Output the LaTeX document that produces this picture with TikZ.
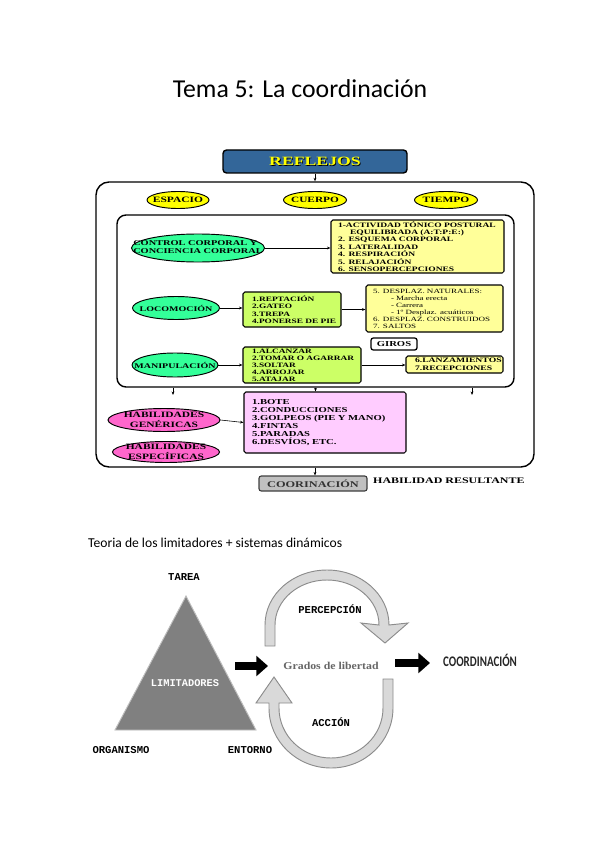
\documentclass[tikz,border=0pt]{standalone}
\usepackage{fontspec}
\setmainfont{Liberation Serif}
\newfontfamily\chartfont[FakeStretch=1.4]{Liberation Serif}
\newfontfamily\gradosfont[FakeStretch=1.12]{Liberation Serif}
\newfontfamily\calfont{Carlito}
\newfontfamily\narrowfont[FakeStretch=0.75]{Carlito}
\newfontfamily\monofont{Liberation Mono}
\usetikzlibrary{shapes.geometric,arrows.meta}
\newlength\px
\setlength\px{0.03cm}
\newcommand\cf[2]{\fontsize{#1}{#2}\chartfont\bfseries}
\definecolor{reflblue}{HTML}{336699}
\definecolor{ovyellow}{HTML}{FFFF00}
\definecolor{boxyellow}{HTML}{FFFF99}
\definecolor{ovgreen}{HTML}{33FF99}
\definecolor{boxgreen}{HTML}{CCFF66}
\definecolor{boxpink}{HTML}{FFCCFF}
\definecolor{ovpink}{HTML}{FF66CC}
\definecolor{coorgray}{HTML}{C0C0C0}
\definecolor{cyfill}{HTML}{D9D9D9}
\definecolor{cydraw}{HTML}{8C8C8C}
\begin{document}
\begin{tikzpicture}[x=0.03cm, y=-0.03cm,
  arr/.style={-{Stealth[length=3pt,width=2.4pt]}, line width=0.5pt},
  oval/.style={ellipse, draw, line width=0.8pt, inner sep=-1pt, align=center},
  listbox/.style={draw, line width=0.9pt, rounded corners=1.5pt, inner ysep=0pt, align=left},
  frame/.style={draw, line width=1.2pt, inner sep=0pt},
  bigarr/.style={-{Triangle[length=10pt,width=17pt]}, line width=6.8pt},
  cyclearrow/.style={fill=cyfill, draw=cydraw, line width=0.8pt},
  mlabel/.style={font=\fontsize{9}{10}\monofont\bfseries}]
\useasboundingbox (0,0) rectangle (599,848);
\node[font=\fontsize{22}{26}\calfont] (title) at (300,89) {Tema 5: La coordinación};
% esquema de habilidades
\node[draw, line width=1.2pt, fill=reflblue, rounded corners=3pt, minimum width=184\px, minimum height=23\px,
  font=\cf{10.8}{11}, text=ovyellow] (refl) at (315,161.5)
  {\rlap{\kern0.7pt\raisebox{-0.7pt}{\color{black}REFLEJOS}}REFLEJOS};
\node[frame, rounded corners=13\px, minimum width=438\px, minimum height=285\px] (outer) at (315,324.5) {};
\node[frame, rounded corners=9\px, minimum width=397\px, minimum height=172\px] (inner) at (315.5,301) {};
\draw[arr] (refl.south) -- (outer.north);
\node[oval, fill=ovyellow, minimum width=62\px, minimum height=17\px, font=\cf{7}{7}] (esp) at (178,200) {\makebox[0pt]{ESPACIO}};
\node[oval, fill=ovyellow, minimum width=63\px, minimum height=17\px, font=\cf{6.9}{7}] (cue) at (315,200) {\makebox[0pt]{CUERPO}};
\node[oval, fill=ovyellow, minimum width=63\px, minimum height=17\px, font=\cf{7}{7}] (tie) at (446,200) {\makebox[0pt]{TIEMPO}};
% fila 1
\node[oval, fill=ovgreen, minimum width=133\px, minimum height=28\px, font=\cf{6.3}{7}] (ctrl) at (198,248)
  {\makebox[0pt]{\begin{tabular}{@{}l@{}}CONTROL CORPORAL Y\\CONCIENCIA CORPORAL\end{tabular}}};
\node[listbox, fill=boxyellow, text width=159\px, inner xsep=7\px, minimum height=53\px, font=\cf{5.8}{6.3}] (act) at (417.5,246.5)
  {1-ACTIVIDAD TÓNICO POSTURAL\\\hspace*{12\px}EQUILIBRADA (A:T:P:E:)\\2. ESQUEMA CORPORAL\\3. LATERALIDAD\\4. RESPIRACIÓN\\5. RELAJACIÓN\\6. SENSOPERCEPCIONES};
\draw[arr] (ctrl.east) -- (ctrl.east -| act.west);
% fila 2
\node[oval, fill=ovgreen, minimum width=87\px, minimum height=23\px, font=\cf{6.1}{7}] (loco) at (176,308) {\makebox[0pt]{LOCOMOCIÓN}};
\node[listbox, fill=boxgreen, text width=80\px, inner xsep=9\px, minimum height=35\px, font=\cf{5.7}{6.4}] (rept) at (292,309.5)
  {1.REPTACIÓN\\2.GATEO\\3.TREPA\\\mbox{4.PONERSE DE PIE}};
\node[listbox, fill=boxyellow, text width=123\px, inner xsep=7\px, minimum height=47\px, font=\fontsize{5.5}{6}\chartfont] (desp) at (434.5,308.5)
  {5. DESPLAZ. NATURALES:\\\hspace*{18\px}- Marcha erecta\\\hspace*{18\px}- Carrera\\\hspace*{18\px}- 1º Desplaz. acuáticos\\6. DESPLAZ. CONSTRUIDOS\\7. SALTOS};
\draw[arr] (loco.east) -- (loco.east -| rept.west);
\draw[arr] (rept.east) -- (rept.east -| desp.west);
\node[draw, line width=1.1pt, fill=white, rounded corners=2pt, minimum width=46\px, minimum height=12\px, inner sep=0pt, font=\cf{6.5}{7}] (giros) at (394,344) {GIROS};
% fila 3
\node[oval, fill=ovgreen, minimum width=86\px, minimum height=24\px, font=\cf{6.1}{7}] (mani) at (175,365) {\makebox[0pt]{MANIPULACIÓN}};
\node[listbox, fill=boxgreen, text width=100\px, inner xsep=9\px, minimum height=36\px, font=\cf{5.7}{6}] (alc) at (302,365)
  {1.ALCANZAR\\\mbox{2.TOMAR O AGARRAR}\\3.SOLTAR\\4.ARROJAR\\5.ATAJAR};
\node[listbox, fill=boxyellow, text width=79\px, inner xsep=9\px, minimum height=17\px, font=\cf{5.9}{6.5}] (lanz) at (454.5,364.5)
  {6.LANZAMIENTOS\\7.RECEPCIONES};
\draw[arr] (mani.east) -- (mani.east -| alc.west);
\draw[arr] (alc.east) -- (alc.east -| lanz.west);
% habilidades
\coordinate (dl) at (173,395);
\coordinate (dr) at (472,395);
\node[listbox, fill=boxpink, text width=146\px, inner xsep=8\px, minimum height=61\px, font=\cf{6.5}{6.7}] (pink) at (325,422.5)
  {1.BOTE\\2.CONDUCCIONES\\3.GOLPEOS (PIE Y MANO)\\4.FINTAS\\5.PARADAS\\6.DESVÍOS, ETC.};
\draw[arr] (dl |- inner.south) -- (dl);
\draw[arr] (dr |- inner.south) -- (dr);
\draw[arr] (inner.south) -- (inner.south |- pink.north);
\node[oval, fill=ovpink, minimum width=112\px, minimum height=23\px, font=\cf{7}{8}] (hgen) at (164,420)
  {\makebox[0pt]{HABILIDADES}\\\makebox[0pt]{GENÉRICAS}};
\node[oval, fill=ovpink, minimum width=107\px, minimum height=21\px, font=\cf{7}{8}] (hesp) at (166,452)
  {\makebox[0pt]{HABILIDADES}\\\makebox[0pt]{ESPECÍFICAS}};
\draw[arr] (hgen.east) -- (pink.west);
\node[draw=black!75, line width=1pt, fill=coorgray, rounded corners=2pt, minimum width=108\px, minimum height=15\px, inner sep=0pt,
  font=\cf{7.5}{8}, text=black!80] (coor) at (313,483.5) {COORINACIÓN};
\draw[arr] (outer.south) -- (outer.south |- coor.north);
\node[anchor=west, inner sep=0pt, font=\cf{7.3}{8}] (res) at (373,481) {HABILIDAD RESULTANTE};
% limitadores y sistemas dinamicos
\node[anchor=west, inner sep=0pt, font=\fontsize{11.6}{13}\calfont] (sub) at (88,543) {Teoria de los limitadores + sistemas dinámicos};
\filldraw[fill=gray, draw=gray!50, line width=0.8pt] (186,596) -- (115,730) -- (256,730) -- cycle;
\node[font=\fontsize{8.8}{10}\monofont\bfseries, text=white] (lim) at (185,683) {LIMITADORES};
\node[mlabel] (tarea) at (184,577) {TAREA};
\node[mlabel] (org) at (121,750) {ORGANISMO};
\node[mlabel] (ent) at (250,750) {ENTORNO};
\node[font=\fontsize{9}{10}\gradosfont\bfseries, text=black!60] (grados) at (331,666) {Grados de libertad};
\node[anchor=west, font=\fontsize{12.5}{14}\narrowfont\bfseries, text=black!85] (coord) at (439,660) {COORDINACIÓN};
\coordinate (a1s) at (235,666);
\coordinate (a1e) at (268,666);
\coordinate (a2s) at (395,663);
\coordinate (a2e) at (430,663);
\draw[bigarr] (a1s) -- (a1e);
\draw[bigarr] (a2s) -- (a2e);
% flechas circulares
\path[cyclearrow] (265,646) -- (265,625) arc[start angle=180, end angle=360, x radius=62, y radius=55]
  -- (408,623) -- (385,643) -- (361,623) -- (379,625)
  arc[start angle=360, end angle=180, x radius=52, y radius=45] -- (275,646) -- cycle;
\path[cyclearrow] (393,679) -- (393,708) arc[start angle=0, end angle=180, x radius=62, y radius=60]
  -- (269,703) -- (256,703) -- (274,677) -- (292,703) -- (279,703) -- (279,708)
  arc[start angle=180, end angle=0, x radius=52, y radius=50] -- (383,679) -- cycle;
\node[mlabel] (perc) at (330,609) {PERCEPCIÓN};
\node[mlabel] (acc) at (331,722) {ACCIÓN};
\end{tikzpicture}
\end{document}
